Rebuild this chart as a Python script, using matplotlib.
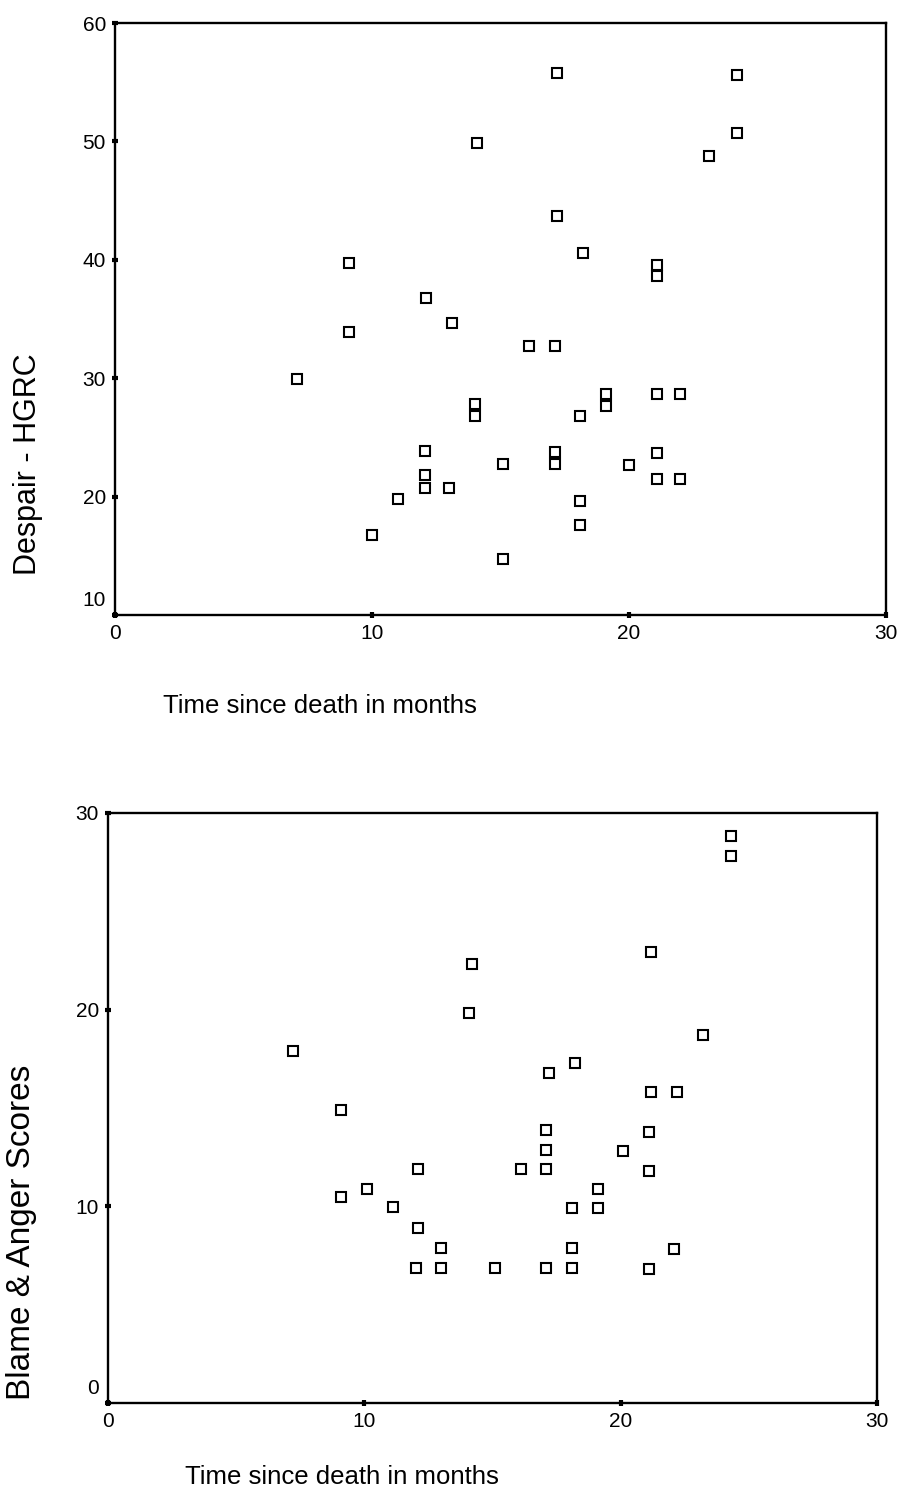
import matplotlib.pyplot as plt
from matplotlib.transforms import ScaledTranslation

plt.rcParams['font.family'] = ['Liberation Sans', 'DejaVu Sans']

# Top chart: despair (HGRC) against months since death
months_top = [7.1, 9.1, 9.1, 10.0, 11.0, 12.05, 12.05, 12.05, 12.1, 13.0,
              13.1, 14.1, 14.0, 14.0, 15.1, 15.1, 16.1, 17.1, 17.2, 17.2,
              17.1, 17.1, 18.2, 18.1, 18.1, 18.1, 19.1, 19.1, 20.0, 21.1,
              21.1, 21.1, 21.1, 21.1, 22.0, 22.0, 23.1, 24.2, 24.2]
despair = [29.9, 33.9, 39.7, 16.8, 19.8, 23.9, 21.8, 20.7, 36.8, 20.7,
           34.7, 49.9, 27.8, 26.8, 22.8, 14.7, 32.75, 32.75, 55.8, 43.7,
           23.8, 22.8, 40.6, 26.8, 19.6, 17.6, 28.7, 27.7, 22.7, 39.6,
           38.6, 28.7, 23.7, 21.5, 28.7, 21.5, 48.8, 55.6, 50.7]

# Bottom chart: blame & anger against months since death
months_bot = [14.2, 14.1, 7.2, 9.1, 24.3, 24.3, 21.2, 23.2, 18.2, 17.2,
              21.2, 22.2, 12.1, 10.1, 9.1, 11.1, 12.1, 13.0, 12.0, 13.0,
              15.1, 17.1, 17.1, 17.1, 16.1, 21.1, 20.1, 21.1, 19.1, 18.1,
              19.1, 18.1, 22.1, 17.1, 18.1, 21.1]
blame = [22.3, 19.8, 17.9, 14.9, 28.8, 27.8, 22.9, 18.7, 17.3, 16.8,
         15.8, 15.8, 11.9, 10.9, 10.5, 9.95, 8.9, 7.9, 6.85, 6.85,
         6.85, 13.86, 12.88, 11.88, 11.88, 13.8, 12.8, 11.8, 10.9, 9.9,
         9.9, 7.9, 7.85, 6.85, 6.85, 6.8]

x_ticks = [0, 10, 20, 30]
top_yticks = [10, 20, 30, 40, 50, 60]
bot_yticks = [0, 10, 20, 30]

fig = plt.figure(figsize=(9, 14.9), dpi=100)
ax1 = fig.add_axes([0.1278, 0.5872, 0.8567, 0.3973])
ax2 = fig.add_axes([0.12, 0.0582, 0.8544, 0.3964])


def style(ax, xs, ys, yticks, ylim):
    ax.plot(xs, ys, linestyle='none', marker='s', ms=6.5, mfc='white',
            mec='black', mew=1.5)
    ax.set_xlim(0, 30)
    ax.set_ylim(*ylim)
    ax.set_xticks(x_ticks)
    ax.set_yticks(yticks)
    for s in ax.spines.values():
        s.set_linewidth(1.7)
        s.set_color('black')
    ax.tick_params(direction='inout', length=5, width=3, labelsize=15,
                   colors='black', pad=4)
    # lowest y label sits a little above its tick, as in the original
    lab = ax.get_yticklabels()[0]
    lab.set_transform(lab.get_transform() +
                      ScaledTranslation(0, 12 / 72, fig.dpi_scale_trans))


style(ax1, months_top, despair, top_yticks, (10, 60))
style(ax2, months_bot, blame, bot_yticks, (0, 30))

fig.text(0.031, 1 - 575 / 1490, 'Despair - HGRC', rotation=90,
         ha='center', va='bottom', fontsize=22)
fig.text(0.181, 1 - 706 / 1490, 'Time since death in months',
         ha='left', va='center', fontsize=18.5)
fig.text(0.024, 1 - 1232 / 1490, 'Blame & Anger Scores', rotation=90,
         ha='center', va='center', fontsize=24)
fig.text(0.2056, 1 - 1477 / 1490, 'Time since death in months',
         ha='left', va='center', fontsize=18.5)

fig.savefig('out.png', dpi=100, facecolor='white')
